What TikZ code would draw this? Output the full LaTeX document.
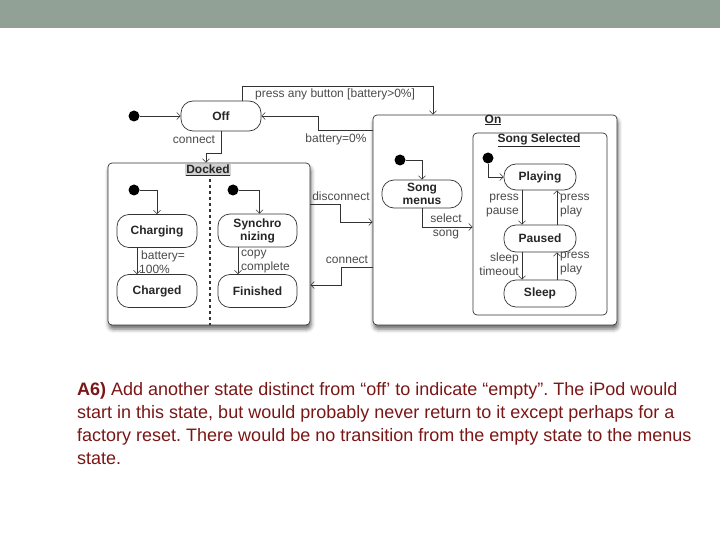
\documentclass[tikz,border=0pt]{standalone}
\usepackage{fontspec}
\setmainfont{Liberation Sans}
\definecolor{slideBanner}{HTML}{92A196}
\definecolor{slideText}{HTML}{7A1616}
\definecolor{umlLine}{HTML}{333333}
\definecolor{umlLabel}{HTML}{4A4A4A}
\usetikzlibrary{
	arrows.meta,
	positioning,
	calc,
	shadows.blur
}
\tikzset{
	stateBox/.style={
		draw=umlLine,
		line width=0.7pt,
		rounded corners=12pt,
		fill=white,
		align=center,
		inner sep=1pt,
		text=black!85,
		font=\fontsize{12}{13}\selectfont\bfseries
	},
	superBox/.style={
		draw=umlLine,
		line width=0.7pt,
		rounded corners=4pt,
		fill=white,
		inner sep=0pt
	},
	superShadow/.style={
		blur shadow={shadow xshift=1pt, shadow yshift=-4pt, shadow blur radius=4pt, shadow opacity=60}
	},
	superTitle/.style={
		inner sep=1pt,
		text=black!85,
		font=\fontsize{12}{13}\selectfont\bfseries
	},
	startDot/.style={
		circle,
		fill=black,
		minimum size=11pt,
		inner sep=0pt
	},
	transArrow/.style={
		-{Straight Barb[length=3.5pt,width=7pt]},
		line width=0.6pt,
		umlLine
	},
	transLabel/.style={
		inner sep=0pt,
		text=umlLabel,
		font=\fontsize{12}{14}\selectfont
	}
}

\begin{document}
\begin{tikzpicture}[x=1pt,y=-1pt]
	\useasboundingbox (0,0) rectangle (720,540);
	\fill[slideBanner] (0,0) rectangle (720,28);
	% Off
	\node[startDot] (offStart) at (134,116) {};
	\node[stateBox, minimum width=80pt, minimum height=30pt] (off) at (221,116) {Off};
	% Docked
	\node[superBox, superShadow, minimum width=202pt, minimum height=162pt] (docked) at (209,244) {};
	\node[superTitle, fill=gray!35] (dockedTitle) at (208,170) {\underline{Docked}};
	\draw[dashed, line width=1.1pt, umlLine] (210,179) -- (210,325);
	\node[startDot] (chargeStart) at (134,190) {};
	\node[startDot] (syncStart) at (233,190) {};
	\node[stateBox, minimum width=80pt, minimum height=33pt] (charging) at (157,231) {Charging};
	\node[stateBox, minimum width=80pt, minimum height=33pt] (charged) at (157,291) {Charged};
	\node[stateBox, minimum width=79pt, minimum height=33pt] (synch) at (257.5,230.5) {Synchro\\nizing};
	\node[stateBox, minimum width=79pt, minimum height=33pt] (finished) at (257.5,291) {Finished};
	% On
	\node[superBox, superShadow, minimum width=244pt, minimum height=210pt] (on) at (495,220) {};
	\node[superTitle] (onTitle) at (493,120) {\underline{On}};
	\node[superBox, minimum width=134pt, minimum height=182pt] (songSel) at (540,224) {};
	\node[superTitle] (songSelTitle) at (539,140) {\underline{Song Selected}};
	\node[startDot] (onStart) at (400,160) {};
	\node[startDot] (selStart) at (488,158) {};
	\node[stateBox, minimum width=80pt, minimum height=28pt] (menus) at (422,194) {Song\\menus};
	\node[stateBox, minimum width=72pt, minimum height=26pt] (playing) at (540,177) {Playing};
	\node[stateBox, minimum width=72pt, minimum height=27pt] (paused) at (540,238.5) {Paused};
	\node[stateBox, minimum width=72pt, minimum height=27pt] (sleep) at (540,293.5) {Sleep};
	% transiciones de nivel superior
	\coordinate (btnTurn) at (433,86);
	\coordinate (batTurn) at (318,130);
	\coordinate (conTurn) at (206,153);
	\coordinate (discTurn) at (340,204);
	\coordinate (discEnd) at (340,222);
	\coordinate (backTurn) at (341,267);
	\coordinate (backEnd) at (341,285);
	\draw[transArrow] (offStart) -- (off);
	\draw[transArrow] ([xshift=21pt]off.north) |- (btnTurn) -- (btnTurn |- on.north);
	\draw[transArrow] (batTurn -| on.west) -- (batTurn) |- (off.east);
	\draw[transArrow] (off.south) |- (conTurn) -- (conTurn |- docked.north);
	\draw[transArrow] (discTurn -| docked.east) -- (discTurn) -- (discEnd) -- (discEnd -| on.west);
	\draw[transArrow] (backTurn -| on.west) -- (backTurn) -- (backEnd) -- (backEnd -| docked.east);
	\node[transLabel, anchor=west] (lblButton) at (255,94) {press any button [battery>0\%]};
	\node[transLabel] (lblBattery) at (336,139) {battery=0\%};
	\node[transLabel] (lblConnect) at (194,140) {connect};
	\node[transLabel] (lblDisconnect) at (341,196) {disconnect};
	\node[transLabel] (lblConnectBack) at (347,260) {connect};
	% dentro de Docked
	\draw[transArrow] (chargeStart) -| (charging.north);
	\draw[transArrow] (syncStart) -| ([xshift=2pt]synch.north);
	\draw[transArrow] ([xshift=-20pt]charging.south) -- ([xshift=-20pt]charged.north);
	\draw[transArrow] ([xshift=-19.5pt]synch.south) -- ([xshift=-19.5pt]finished.north);
	\node[transLabel, anchor=west, align=left] (lblFull) at (139,262) {\,battery=\\100\%};
	\node[transLabel, anchor=west, align=left] (lblCopy) at (241,262) {copy\\complete};
	% dentro de On
	\draw[transArrow] (onStart) -| (menus.north);
	\draw[transArrow] (menus.south) |- (songSel.west |- 0,227);
	\draw[transArrow] (selStart) |- (playing.west);
	\draw[transArrow] ([xshift=-18pt]playing.south) -- ([xshift=-18pt]paused.north);
	\draw[transArrow] ([xshift=17pt]paused.north) -- ([xshift=17pt]playing.south);
	\draw[transArrow] ([xshift=-18pt]paused.south) -- ([xshift=-18pt]sleep.north);
	\draw[transArrow] ([xshift=17pt]sleep.north) -- ([xshift=17pt]paused.south);
	\node[transLabel, align=center] (lblSelect) at (446,226) {select\\song};
	\node[transLabel, anchor=east, align=right] (lblPause) at (519,206) {press\\pause};
	\node[transLabel, anchor=west, align=left] (lblPlay) at (560,206) {press\\play};
	\node[transLabel, anchor=east, align=right] (lblTimeout) at (519,264) {sleep\\timeout};
	\node[transLabel, anchor=west, align=left] (lblWake) at (560,264) {press\\play};
	% texto de la diapositiva
	\node[anchor=base west, align=left, inner sep=0pt, text=slideText, font=\fontsize{18}{23}\selectfont\frenchspacing] (answer) at (77,464) {\textbf{A6)} Add another state distinct from “off’ to indicate “empty”. The iPod would\\start in this state, but would probably never return to it except perhaps for a\\factory reset. There would be no transition from the empty state to the menus\\state.};
\end{tikzpicture}
\end{document}
